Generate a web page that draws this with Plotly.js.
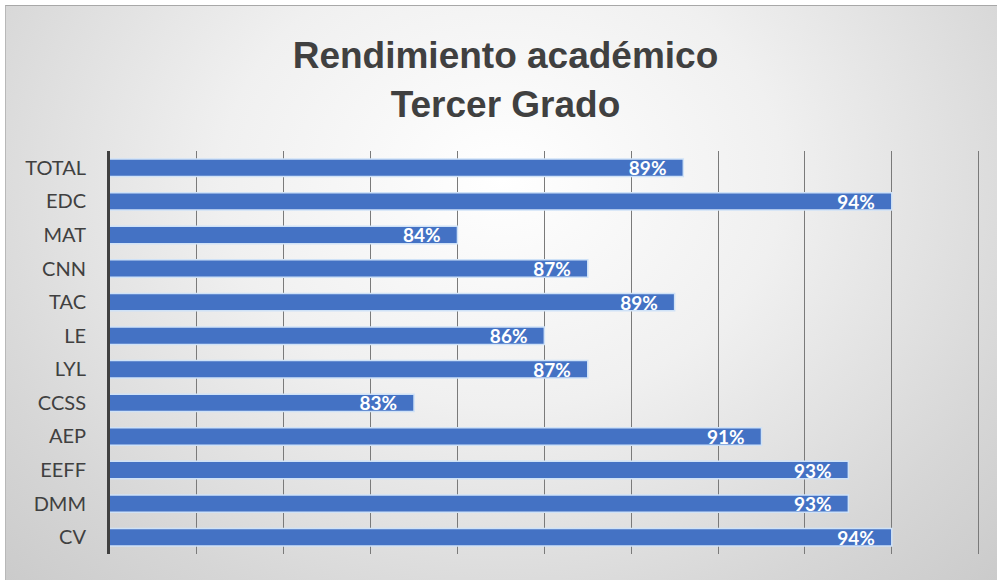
<!DOCTYPE html>
<html>
<head>
<meta charset="utf-8">
<script src="https://cdn.plot.ly/plotly-3.0.1.min.js"></script>
<style>
  html, body { margin: 0; padding: 0; background: #ffffff; }
  #frame {
    position: absolute; left: 5px; top: 5px; width: 992px; height: 575px;
    border-top: 1px solid #a8a8a8; border-left: 1px solid #b8b8b8;
    box-sizing: border-box;
    background: radial-gradient(ellipse at 50% 30%, #ffffff 0%, #f0f0f0 40%, #d6d6d6 80%, #cbcbcb 100%);
  }
  #chart { position: absolute; left: 0; top: 0; width: 997px; height: 580px; }
</style>
</head>
<body>
<div id="frame"></div>
<div id="chart"></div>
<script>
const categories = ["CV", "DMM", "EEFF", "AEP", "CCSS", "LYL", "LE", "TAC", "CNN", "MAT", "EDC", "TOTAL"];
const values = [0.94, 0.93, 0.93, 0.91, 0.83, 0.87, 0.86, 0.89, 0.87, 0.84, 0.94, 0.892];
const titleText = "Rendimiento académico<br>Tercer Grado";
const xTicks = [0.76, 0.78, 0.80, 0.82, 0.84, 0.86, 0.88, 0.90, 0.92, 0.94, 0.96];

const trace = {
  type: "bar",
  orientation: "h",
  y: categories,
  x: values,
  base: 0,
  width: 0.52,
  marker: { color: "#4472C4", line: { color: "#cfe2f7", width: 1.5 } },
  texttemplate: "%{x:.0%}\u00a0\u00a0\u00a0",
  textposition: "inside",
  insidetextanchor: "end",
  textangle: 0,
  constraintext: "none",
  textfont: { family: "Lato, 'Open Sans', sans-serif", size: 19, color: "#ffffff", weight: "bold" },
  hoverinfo: "none"
};

const layout = {
  width: 997, height: 580,
  paper_bgcolor: "rgba(0,0,0,0)",
  plot_bgcolor: "rgba(0,0,0,0)",
  margin: { l: 110, r: 14, t: 151, b: 26, pad: 0 },
  showlegend: false,
  title: {
    text: titleText,
    font: { family: "'Liberation Sans', Arial, sans-serif", size: 37, color: "#404040", weight: "bold" },
    x: 0.507, xanchor: "center",
    y: 0.882, yanchor: "middle"
  },
  xaxis: {
    range: [0.76, 0.961],
    tickvals: xTicks,
    showticklabels: false,
    showgrid: true, gridcolor: "#7a7a7a", gridwidth: 1,
    zeroline: false, showline: false, ticks: ""
  },
  yaxis: {
    type: "category",
    categoryorder: "array", categoryarray: categories,
    range: [-0.5, 11.5],
    showline: true, linecolor: "#404040", linewidth: 3,
    showgrid: false, zeroline: false, ticks: "",
    ticklabelstandoff: 17,
    tickfont: { family: "Lato, 'Noto Sans', sans-serif", size: 20, color: "#404040" }
  }
};

Plotly.newPlot("chart", [trace], layout, { staticPlot: true, displayModeBar: false });
</script>
</body>
</html>
